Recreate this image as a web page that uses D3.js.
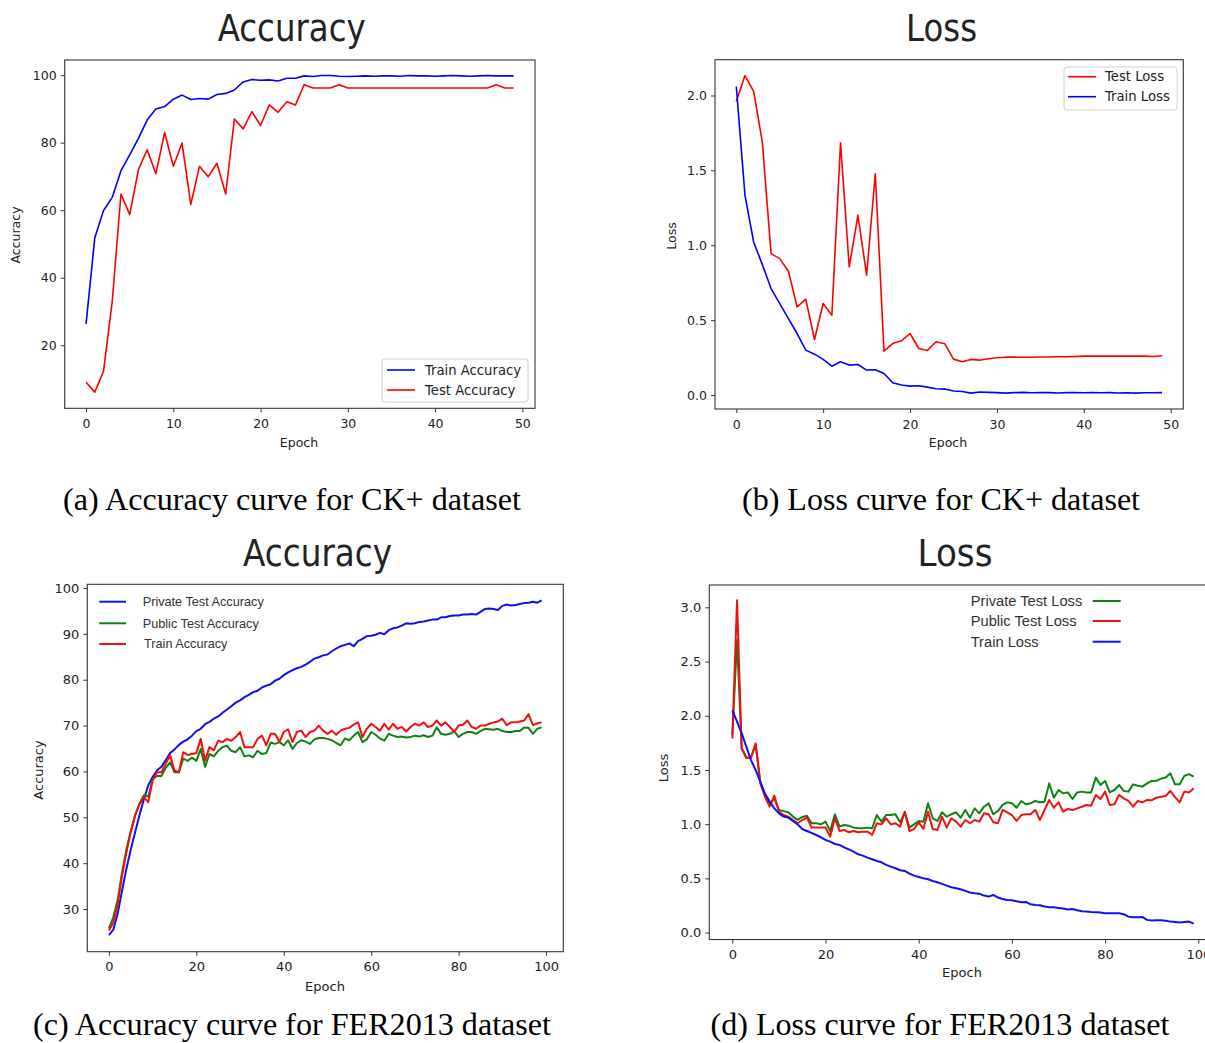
<!DOCTYPE html>
<html>
<head>
<meta charset="utf-8">
<title>Accuracy and loss curves</title>
<style>
  body { margin: 0; background: #fff; }
  svg text { font-family: "DejaVu Sans", sans-serif; fill: #222; }
  .caption { font-family: "Liberation Serif", "Times New Roman", serif; fill: #000; }
  .lg-arial text { font-family: "Liberation Sans", Arial, sans-serif; fill: #333; }
</style>
</head>
<body>
<script src="https://d3js.org/d3.v7.min.js"></script>
<script>
// ---- (a) CK+ accuracy, 50 epochs
var ckTrainAcc = [26.3, 51.8, 59.9, 63.8, 71.7, 76.4, 81.3, 86.7, 90.0, 90.7,
  92.9, 94.1, 92.8, 93.1, 92.9, 94.3, 94.6, 95.6, 98.0, 98.7,
  98.5, 98.6, 98.3, 99.1, 99.1, 99.8, 99.6, 99.9, 99.9, 99.7,
  99.6, 99.7, 99.8, 99.7, 99.8, 99.8, 99.7, 99.9, 99.8, 99.8,
  99.7, 99.8, 99.9, 99.8, 99.7, 99.8, 99.9, 99.8, 99.8, 99.8];
var ckTestAcc = [9.0, 6.1, 12.3, 33.0, 64.8, 58.7, 72.0, 77.9, 70.8, 83.0,
  73.0, 79.9, 61.7, 73.0, 69.9, 73.9, 64.8, 87.0, 84.1, 89.2,
  85.1, 91.2, 89.0, 92.1, 91.2, 97.2, 96.2, 96.2, 96.2, 97.2,
  96.2, 96.2, 96.2, 96.2, 96.2, 96.2, 96.2, 96.2, 96.2, 96.2,
  96.2, 96.2, 96.2, 96.2, 96.2, 96.2, 96.2, 97.2, 96.2, 96.2];

// ---- (b) CK+ loss, 50 epochs
var ckTestLoss = [1.96, 2.133, 2.027, 1.689, 0.944, 0.911, 0.827, 0.589, 0.640, 0.371,
  0.611, 0.533, 1.684, 0.856, 1.200, 0.800, 1.478, 0.293, 0.344, 0.362,
  0.411, 0.311, 0.298, 0.356, 0.342, 0.240, 0.222, 0.238, 0.233, 0.242,
  0.249, 0.253, 0.253, 0.252, 0.252, 0.254, 0.254, 0.256, 0.256, 0.258,
  0.260, 0.260, 0.260, 0.260, 0.260, 0.260, 0.260, 0.260, 0.258, 0.262];
var ckTrainLoss = [2.06, 1.333, 1.022, 0.871, 0.711, 0.611, 0.511, 0.411, 0.300, 0.273,
  0.238, 0.193, 0.222, 0.200, 0.204, 0.167, 0.169, 0.144, 0.082, 0.067,
  0.060, 0.062, 0.053, 0.042, 0.040, 0.027, 0.024, 0.013, 0.020, 0.018,
  0.016, 0.013, 0.016, 0.018, 0.015, 0.016, 0.016, 0.014, 0.016, 0.016,
  0.015, 0.016, 0.015, 0.016, 0.014, 0.015, 0.013, 0.015, 0.015, 0.016];

// ---- (c) FER2013 accuracy, 100 epochs
var ferPrivateAcc = [24.3, 25.5, 29.0, 34.0, 38.8, 43.0, 46.8, 50.5, 54.0, 57.0,
  58.8, 60.2, 61.0, 62.5, 64.0, 64.8, 65.8, 66.5, 67.0, 67.8,
  68.8, 69.3, 70.3, 70.8, 71.5, 72.0, 72.8, 73.5, 74.2, 75.0,
  75.5, 76.2, 76.7, 77.3, 77.6, 78.3, 78.7, 79.0, 79.8, 80.2,
  81.0, 81.6, 82.1, 82.5, 82.8, 83.3, 83.9, 84.6, 84.9, 85.3,
  85.5, 86.2, 86.8, 87.3, 87.6, 87.9, 87.3, 88.4, 88.9, 89.5,
  89.6, 89.8, 90.2, 89.9, 90.8, 91.2, 91.4, 91.8, 92.3, 92.2,
  92.3, 92.6, 92.7, 92.9, 93.1, 93.1, 93.6, 93.6, 93.9, 94.0,
  94.0, 94.2, 94.2, 94.3, 94.2, 94.8, 95.4, 95.5, 95.4, 95.2,
  96.1, 96.4, 96.2, 96.3, 96.5, 96.7, 96.8, 97.0, 96.8, 97.3];
var ferPublicAcc = [25.8, 28.2, 32.0, 38.0, 43.0, 47.0, 50.5, 53.0, 54.8, 54.5,
  58.3, 59.0, 59.0, 60.8, 62.0, 59.8, 59.8, 62.8, 62.3, 63.0,
  62.3, 64.9, 61.0, 63.8, 63.3, 64.5, 65.3, 65.6, 64.5, 64.2,
  65.3, 63.3, 63.5, 63.1, 64.5, 63.8, 64.0, 66.3, 66.0, 66.4,
  65.7, 66.8, 64.9, 66.2, 66.8, 66.5, 66.0, 67.0, 67.3, 67.3,
  67.1, 66.8, 66.2, 65.7, 67.2, 66.8, 67.8, 68.6, 66.4, 67.0,
  68.6, 68.0, 67.2, 66.7, 68.2, 67.8, 67.5, 67.6, 67.4, 67.5,
  67.8, 67.6, 67.9, 67.5, 67.8, 69.6, 68.2, 68.0, 68.2, 68.8,
  67.5, 68.2, 68.6, 68.6, 68.2, 68.8, 69.3, 69.2, 69.1, 69.3,
  68.8, 68.6, 68.6, 68.8, 68.8, 69.6, 69.5, 68.2, 69.3, 69.6];
var ferTrainAcc = [25.3, 27.0, 31.0, 37.3, 42.4, 46.8, 50.4, 52.9, 54.4, 53.3,
  58.0, 59.8, 59.8, 61.7, 63.5, 60.2, 59.8, 64.2, 63.6, 63.8,
  64.0, 67.1, 62.4, 65.3, 64.6, 66.7, 66.4, 67.1, 66.7, 67.5,
  68.6, 65.3, 65.3, 65.3, 67.1, 67.8, 65.7, 68.2, 68.2, 66.4,
  68.6, 69.2, 66.4, 68.6, 68.9, 67.5, 68.6, 68.9, 70.0, 68.9,
  68.2, 68.9, 68.0, 68.9, 69.3, 69.5, 70.2, 70.7, 67.5, 69.3,
  70.4, 69.7, 68.9, 70.4, 69.1, 70.4, 69.3, 69.7, 68.7, 69.7,
  70.4, 70.0, 70.7, 69.7, 70.0, 71.1, 70.0, 70.7, 69.7, 68.6,
  70.0, 70.2, 71.1, 69.7, 69.3, 70.0, 70.0, 70.4, 70.7, 70.9,
  71.5, 70.1, 70.7, 70.7, 70.9, 71.1, 72.5, 70.1, 70.5, 70.7];

// ---- (d) FER2013 loss, 100 epochs
var ferPrivateLoss = [1.82, 2.70, 1.70, 1.61, 1.62, 1.73, 1.39, 1.27, 1.18, 1.24,
  1.13, 1.12, 1.11, 1.07, 1.04, 1.066, 1.078, 1.008, 1.008, 0.998,
  1.023, 0.937, 1.091, 0.977, 0.992, 0.986, 0.968, 0.962, 0.962, 0.968,
  0.962, 1.084, 1.023, 1.084, 1.084, 1.091, 1.017, 1.109, 0.968, 0.998,
  1.029, 1.023, 1.192, 1.054, 1.029, 1.109, 1.069, 1.091, 1.109, 1.060,
  1.131, 1.060, 1.146, 1.100, 1.161, 1.192, 1.091, 1.121, 1.177, 1.201,
  1.192, 1.152, 1.214, 1.183, 1.192, 1.214, 1.201, 1.207, 1.376, 1.244,
  1.315, 1.284, 1.293, 1.232, 1.293, 1.300, 1.293, 1.293, 1.429, 1.361,
  1.398, 1.293, 1.315, 1.361, 1.306, 1.300, 1.367, 1.355, 1.346, 1.376,
  1.398, 1.400, 1.420, 1.430, 1.469, 1.367, 1.367, 1.445, 1.462, 1.438];
var ferPublicLoss = [1.79, 3.066, 1.70, 1.613, 1.613, 1.745, 1.376, 1.253, 1.161, 1.263,
  1.115, 1.084, 1.069, 1.038, 1.008, 1.038, 1.060, 0.968, 0.968, 0.968,
  0.968, 0.885, 1.054, 0.937, 0.946, 0.925, 0.937, 0.925, 0.931, 0.931,
  0.900, 1.008, 0.998, 1.054, 0.998, 1.008, 0.977, 1.115, 0.937, 0.955,
  1.017, 0.955, 1.115, 0.955, 0.946, 1.069, 0.968, 1.054, 1.023, 0.977,
  1.038, 1.008, 1.038, 1.023, 1.100, 1.091, 1.017, 1.008, 1.131, 1.109,
  1.084, 1.029, 1.084, 1.091, 1.091, 1.131, 1.038, 1.131, 1.223, 1.152,
  1.201, 1.115, 1.140, 1.131, 1.146, 1.161, 1.177, 1.170, 1.269, 1.232,
  1.300, 1.177, 1.183, 1.269, 1.238, 1.214, 1.161, 1.214, 1.201, 1.223,
  1.220, 1.244, 1.253, 1.260, 1.306, 1.250, 1.201, 1.300, 1.293, 1.330];
var ferTrainLoss = [2.05, 1.945, 1.837, 1.714, 1.59, 1.50, 1.39, 1.28, 1.21, 1.146,
  1.10, 1.07, 1.06, 1.03, 0.998, 0.955, 0.937, 0.92, 0.90, 0.879,
  0.854, 0.839, 0.817, 0.808, 0.786, 0.768, 0.747, 0.722, 0.71, 0.691,
  0.676, 0.66, 0.648, 0.624, 0.608, 0.593, 0.575, 0.568, 0.544, 0.525,
  0.513, 0.501, 0.492, 0.476, 0.464, 0.449, 0.433, 0.418, 0.409, 0.40,
  0.384, 0.369, 0.363, 0.359, 0.341, 0.332, 0.347, 0.323, 0.31, 0.301,
  0.298, 0.289, 0.28, 0.283, 0.261, 0.255, 0.252, 0.24, 0.233, 0.233,
  0.227, 0.221, 0.212, 0.218, 0.206, 0.197, 0.194, 0.19, 0.187, 0.184,
  0.178, 0.178, 0.178, 0.178, 0.169, 0.147, 0.141, 0.141, 0.144, 0.117,
  0.111, 0.114, 0.114, 0.108, 0.101, 0.098, 0.092, 0.098, 0.101, 0.083];

var xTicks50 = [0, 10, 20, 30, 40, 50];
var xTicks100 = [0, 20, 40, 60, 80, 100];
var yTicksCkAcc = [20, 40, 60, 80, 100];
var yTicksCkLoss = [0, 0.5, 1.0, 1.5, 2.0];
var yTicksFerAcc = [30, 40, 50, 60, 70, 80, 90, 100];
var yTicksFerLoss = [0, 0.5, 1.0, 1.5, 2.0, 2.5, 3.0];

var svg = d3.select("body").append("svg")
    .attr("width", 1205)
    .attr("height", 1043);

function drawPanel(o) {
  var g = svg.append("g");
  var x = d3.scaleLinear().domain(o.xDomain).range([o.box[0], o.box[1]]);
  var y = d3.scaleLinear().domain(o.yDomain).range([o.box[3], o.box[2]]);

  // lines
  var line = d3.line().x(function(d, i) { return x(i); }).y(function(d) { return y(d); });
  o.series.forEach(function(s) {
    g.append("path")
      .attr("d", line(s.values))
      .attr("fill", "none")
      .attr("stroke", s.color)
      .attr("stroke-width", o.lineWidth)
      .attr("stroke-linejoin", "round");
  });

  // frame
  g.append("rect")
    .attr("x", o.box[0]).attr("y", o.box[2])
    .attr("width", o.box[1] - o.box[0]).attr("height", o.box[3] - o.box[2])
    .attr("fill", "none").attr("stroke", "#333").attr("stroke-width", 1.1);

  var xa = g.append("g").attr("transform", "translate(0," + o.box[3] + ")")
    .call(d3.axisBottom(x).tickValues(o.xTicks).tickSize(4).tickPadding(o.xPad).tickFormat(d3.format("d")));
  var ya = g.append("g").attr("transform", "translate(" + o.box[0] + ",0)")
    .call(d3.axisLeft(y).tickValues(o.yTicks).tickSize(4).tickPadding(4).tickFormat(d3.format(o.yFormat)));
  [xa, ya].forEach(function(a) {
    a.select(".domain").remove();
    a.selectAll("line").attr("stroke", "#333");
    a.selectAll("text").attr("fill", "#222").style("font-size", o.tickFont + "px")
      .style("font-family", "'DejaVu Sans', sans-serif");
  });

  // title
  g.append("text").text(o.title)
    .attr("x", o.titlePos[0]).attr("y", o.titlePos[1])
    .attr("text-anchor", "middle").style("font-size", "38px").attr("fill", "#000")
    .attr("textLength", o.titlePos[2]).attr("lengthAdjust", "spacingAndGlyphs");

  // axis labels
  g.append("text").text("Epoch")
    .attr("x", o.xLabelPos[0]).attr("y", o.xLabelPos[1])
    .attr("text-anchor", "middle").style("font-size", o.tickFont + "px");
  g.append("text").text(o.yLabel)
    .attr("transform", "translate(" + o.yLabelPos[0] + "," + o.yLabelPos[1] + ") rotate(-90)")
    .attr("dy", "0.35em")
    .attr("text-anchor", "middle").style("font-size", o.tickFont + "px");

  // legend
  var L = o.legend;
  var lg = g.append("g").attr("class", L.cls || "");
  if (L.frame) {
    lg.append("rect")
      .attr("x", L.frame[0]).attr("y", L.frame[1])
      .attr("width", L.frame[2]).attr("height", L.frame[3])
      .attr("rx", 3).attr("fill", "#fff").attr("fill-opacity", 0.8)
      .attr("stroke", "#d0d0d0").attr("stroke-width", 1);
  }
  L.items.forEach(function(it, i) {
    var yy = L.rows[i];
    lg.append("line")
      .attr("x1", L.lineX[0]).attr("x2", L.lineX[1])
      .attr("y1", yy).attr("y2", yy)
      .attr("stroke", it.color).attr("stroke-width", o.lineWidth);
    lg.append("text").text(it.label)
      .attr("x", L.textX[i]).attr("y", yy).attr("dy", "0.35em")
      .style("font-size", L.font + "px");
  });

  // caption
  svg.append("text").attr("class", "caption").text(o.caption[0])
    .attr("x", o.caption[1]).attr("y", o.caption[2])
    .attr("text-anchor", "middle").style("font-size", "32px")
    .attr("textLength", o.caption[3]).attr("lengthAdjust", "spacingAndGlyphs");
}

drawPanel({
  box: [64.7, 535, 60, 408.3],
  xDomain: [-2.45, 51.45], yDomain: [1.3, 104.5],
  xTicks: xTicks50, yTicks: yTicksCkAcc, yFormat: "d", xPad: 7,
  tickFont: 12.5, lineWidth: 1.6,
  series: [{ values: ckTrainAcc, color: "#0000ff" }, { values: ckTestAcc, color: "#ff0000" }],
  title: "Accuracy", titlePos: [291.7, 41, 148],
  yLabel: "Accuracy", yLabelPos: [16, 235], xLabelPos: [299, 447],
  legend: { frame: [382, 359, 146, 43], lineX: [387, 415], rows: [370, 390], textX: [425, 425], font: 13.2,
    items: [{ label: "Train Accuracy", color: "#0000ff" }, { label: "Test Accuracy", color: "#ff0000" }] },
  caption: ["(a) Accuracy curve for CK+ dataset", 292, 510, 458]
});

drawPanel({
  box: [715, 1183.3, 59.7, 409],
  xDomain: [-2.45, 51.45], yDomain: [-0.093, 2.239],
  xTicks: xTicks50, yTicks: yTicksCkLoss, yFormat: ".1f", xPad: 7,
  tickFont: 12.5, lineWidth: 1.6,
  series: [{ values: ckTestLoss, color: "#ff0000" }, { values: ckTrainLoss, color: "#0000ff" }],
  title: "Loss", titlePos: [941.5, 41, 71],
  yLabel: "Loss", yLabelPos: [672, 236], xLabelPos: [948, 447],
  legend: { frame: [1064, 67, 113, 43], lineX: [1068, 1096], rows: [76.7, 96.7], textX: [1105, 1105], font: 13.2,
    items: [{ label: "Test Loss", color: "#ff0000" }, { label: "Train Loss", color: "#0000ff" }] },
  caption: ["(b) Loss curve for CK+ dataset", 941, 510, 398]
});

drawPanel({
  box: [87.3, 563.3, 584.3, 951.7],
  xDomain: [-4.95, 103.95], yDomain: [20.7, 100.8],
  xTicks: xTicks100, yTicks: yTicksFerAcc, yFormat: "d", xPad: 6,
  tickFont: 13, lineWidth: 2,
  series: [{ values: ferPrivateAcc, color: "#1010f0" }, { values: ferPublicAcc, color: "#108010" },
           { values: ferTrainAcc, color: "#f01010" }],
  title: "Accuracy", titlePos: [317.6, 566, 149],
  yLabel: "Accuracy", yLabelPos: [38, 770], xLabelPos: [325, 991],
  legend: { cls: "lg-arial", lineX: [99.3, 126], rows: [601.7, 623.3, 644], textX: [142.7, 142.7, 144], font: 12.7,
    items: [{ label: "Private Test Accuracy", color: "#1010f0" }, { label: "Public Test Accuracy", color: "#108010" },
            { label: "Train Accuracy", color: "#f01010" }] },
  caption: ["(c) Accuracy curve for FER2013 dataset", 292, 1035, 518]
});

drawPanel({
  box: [709.3, 1216.7, 585, 939.5],
  xDomain: [-4.95, 103.95], yDomain: [-0.064, 3.206],
  xTicks: xTicks100, yTicks: yTicksFerLoss, yFormat: ".1f", xPad: 6,
  tickFont: 13, lineWidth: 2,
  series: [{ values: ferPrivateLoss, color: "#108010" }, { values: ferPublicLoss, color: "#f01010" },
           { values: ferTrainLoss, color: "#1010f0" }],
  title: "Loss", titlePos: [955, 566, 75],
  yLabel: "Loss", yLabelPos: [663, 768], xLabelPos: [962, 977],
  legend: { cls: "lg-arial", lineX: [1092.7, 1120.7], rows: [601, 621, 641.7], textX: [970.7, 970.7, 970.7], font: 14.7,
    items: [{ label: "Private Test Loss", color: "#108010" }, { label: "Public Test Loss", color: "#f01010" },
            { label: "Train Loss", color: "#1010f0" }] },
  caption: ["(d) Loss curve for FER2013 dataset", 940, 1035, 459]
});
</script>
</body>
</html>
